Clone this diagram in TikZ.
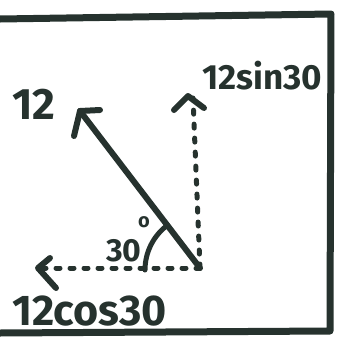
\documentclass[tikz,border=0pt]{standalone}
\usepackage{fontspec}
\setmainfont{Fira Sans}
\definecolor{ink}{RGB}{38,50,46}
\begin{document}
\begin{tikzpicture}[x=1pt,y=-1pt,
  pen/.style={draw=ink,line width=6pt,line cap=round,line join=round},
  dotted line/.style={pen,line width=5pt,dash pattern=on 4pt off 10pt},
  lab/.style={text=ink,inner sep=0pt}]
\useasboundingbox (0,0) rectangle (345,349);
% frame
\coordinate (tl) at (0,19);
\coordinate (tr) at (331,14);
\coordinate (br) at (330,331);
\coordinate (bl) at (0,333);
\draw[pen,line width=7pt] (tl) -- (tr) -- (br) -- (bl);
% origin and ends
\coordinate (O) at (200,268);
\coordinate (A) at (80,111);
\coordinate (V) at (193,98);
\coordinate (H) at (40,268);
% main vector
\draw[pen] (O) -- (A);
\draw[pen] (A) -- (100,110);
\draw[pen] (A) -- (74,136);
% vertical dotted component
\draw[dotted line] (O) -- (V);
\draw[pen] (174,110) -- (188,96) -- (204,108);
% horizontal dashed component
\draw[dotted line] (O) -- (H);
\draw[pen] (50,258) -- (38,268) -- (56,288);
% angle arc
\draw[pen,line width=5pt] (145,270) arc[start angle=180,end angle=233,radius=56];
% labels
\node[lab,anchor=base west,font=\bfseries\fontsize{44}{44}\selectfont] (l12) at (12,119) {12};
\node[lab,anchor=base west,font=\bfseries\fontsize{35}{35}\selectfont] (lsin) at (202,89) {12sin30};
\node[lab,anchor=base west,font=\bfseries\fontsize{32}{32}\selectfont] (lang) at (106,261) {30};
\node[lab,anchor=center,font=\bfseries\fontsize{20}{20}\selectfont] (ldeg) at (144,222) {o};
\node[lab,anchor=base west,font=\bfseries\fontsize{43}{43}\selectfont] (lcos) at (12,325) {12cos30};
\end{tikzpicture}
\end{document}
